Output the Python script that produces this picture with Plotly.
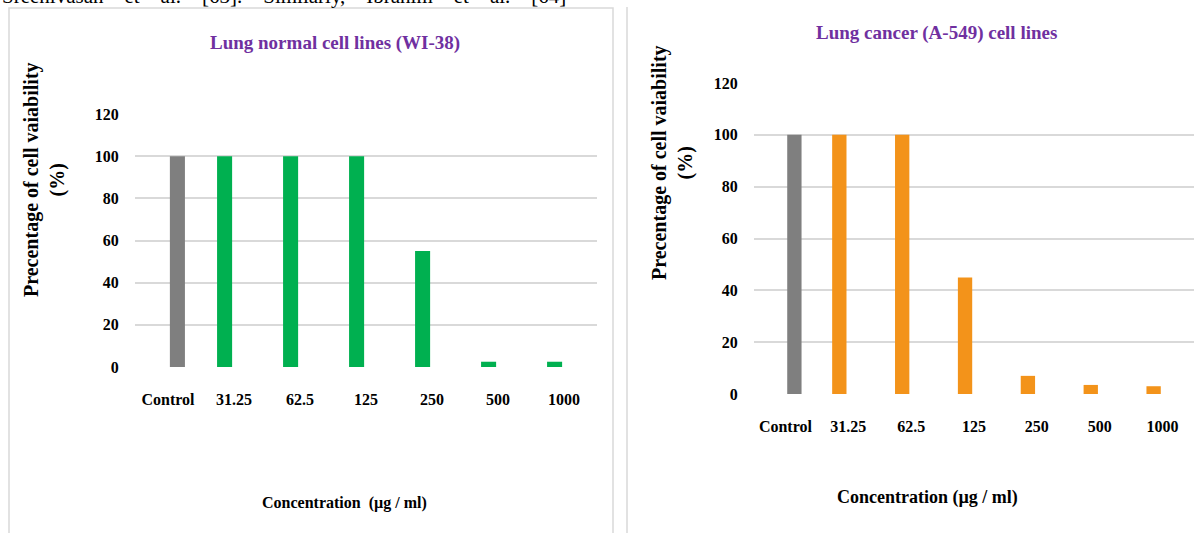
import plotly.graph_objects as go

# ---------------- data ----------------
categories = ["Control", "31.25", "62.5", "125", "250", "500", "1000"]
wi38_viability = [100, 100, 100, 100, 55, 2.5, 2.5]
a549_viability = [100, 100, 100, 45, 7, 3.5, 3]
y_ticks = [0, 20, 40, 60, 80, 100, 120]

title_wi38 = "Lung normal cell lines (WI-38)"
title_a549 = "Lung cancer (A-549) cell lines"
y_title = "Precentage of cell vaiability<br>(%)"
x_title_left = "Concentration\u00a0 (µg / ml)"
x_title_right = "Concentration (µg / ml)"
GAP = "\u00a0\u00a0\u00a0 "
page_text = GAP.join(["Sreenivasan", "et", "al.", "[63].", "Similarly,", "Ibrahim", "et", "al.", "[64]"])

W, H = 1199, 533
FONT = "Liberation Serif, Times New Roman, serif"
GREY = "#7f7f7f"
GREEN = "#00b050"
ORANGE = "#f3931a"
PURPLE = "#7030a0"
GRID = "#d9d9d9"


def fx(p):
    return p / W


def fy(p):
    return 1 - p / H


def split(vals):
    ctrl = [v if c == "Control" else None for c, v in zip(categories, vals)]
    treat = [None if c == "Control" else v for c, v in zip(categories, vals)]
    return treat, ctrl


fig = go.Figure()

treat1, ctrl1 = split(wi38_viability)
treat2, ctrl2 = split(a549_viability)

fig.add_trace(go.Bar(x=categories, y=treat1, marker=dict(color=GREEN, line=dict(width=0)),
                     xaxis="x", yaxis="y", showlegend=False))
fig.add_trace(go.Bar(x=categories, y=ctrl1, marker=dict(color=GREY, line=dict(width=0)),
                     xaxis="x", yaxis="y", showlegend=False))
fig.add_trace(go.Bar(x=categories, y=treat2, marker=dict(color=ORANGE, line=dict(width=0)),
                     xaxis="x2", yaxis="y2", showlegend=False))
fig.add_trace(go.Bar(x=categories, y=ctrl2, marker=dict(color=GREY, line=dict(width=0)),
                     xaxis="x2", yaxis="y2", showlegend=False))

tickfont = dict(family=FONT, size=16, color="black", weight="bold")

xcommon = dict(type="category", showgrid=False, showline=False, zeroline=False,
               ticks="outside", ticklen=18, tickcolor="rgba(0,0,0,0)",
               tickfont=tickfont, fixedrange=True, automargin=False)
ycommon = dict(range=[0, 120], tickvals=y_ticks, showgrid=True, gridcolor=GRID,
               gridwidth=1.5, zeroline=False, showline=False,
               ticks="outside", ticklen=12, tickcolor="rgba(0,0,0,0)",
               tickfont=tickfont, fixedrange=True, automargin=False)

annotations = [
    dict(text=title_wi38, x=fx(335), y=fy(43), xref="paper", yref="paper",
         showarrow=False, xanchor="center", yanchor="middle",
         font=dict(family=FONT, size=19, color=PURPLE, weight="bold")),
    dict(text=title_a549, x=fx(936), y=fy(33), xref="paper", yref="paper",
         showarrow=False, xanchor="center", yanchor="middle",
         font=dict(family=FONT, size=19, color=PURPLE, weight="bold")),
    dict(text=y_title, x=fx(44), y=fy(180), xref="paper", yref="paper",
         showarrow=False, textangle=-90, xanchor="center", yanchor="middle",
         font=dict(family=FONT, size=20, color="black", weight="bold")),
    dict(text=y_title, x=fx(673), y=fy(163), xref="paper", yref="paper",
         showarrow=False, textangle=-90, xanchor="center", yanchor="middle",
         font=dict(family=FONT, size=20, color="black", weight="bold")),
    dict(text=x_title_left, x=fx(344), y=fy(503), xref="paper", yref="paper",
         showarrow=False, xanchor="center", yanchor="middle",
         font=dict(family=FONT, size=16, color="black", weight="bold")),
    dict(text=x_title_right, x=fx(927), y=fy(497), xref="paper", yref="paper",
         showarrow=False, xanchor="center", yanchor="middle",
         font=dict(family=FONT, size=18, color="black", weight="bold")),
    dict(text=page_text, x=fx(0), y=fy(-4), xref="paper", yref="paper",
         showarrow=False, xanchor="left", yanchor="middle",
         font=dict(family=FONT, size=21, color="black")),
]

shapes = [
    dict(type="rect", xref="paper", yref="paper", x0=fx(9), x1=fx(613),
         y0=fy(560), y1=fy(8), line=dict(color=GRID, width=1.5), layer="below"),
    dict(type="line", xref="paper", yref="paper", x0=fx(627), x1=fx(627),
         y0=fy(560), y1=fy(7), line=dict(color=GRID, width=1.5), layer="below"),
]

fig.update_layout(
    width=W, height=H,
    margin=dict(l=0, r=0, t=0, b=0, pad=0, autoexpand=False),
    paper_bgcolor="white", plot_bgcolor="white",
    barmode="group", bargap=0.43, bargroupgap=0.2,
    showlegend=False,
    xaxis=dict(domain=[fx(135), fx(597)], anchor="y", **xcommon),
    yaxis=dict(domain=[fy(367), fy(114)], anchor="x", **ycommon),
    xaxis2=dict(domain=[fx(754), fx(1194)], anchor="y2", **xcommon),
    yaxis2=dict(domain=[fy(394), fy(83)], anchor="x2", **ycommon),
    annotations=annotations,
    shapes=shapes,
)

fig.write_html(
    "out.html",
    config={"displayModeBar": False},
    post_script="document.body.style.margin='0px';document.body.style.overflow='hidden';",
)
